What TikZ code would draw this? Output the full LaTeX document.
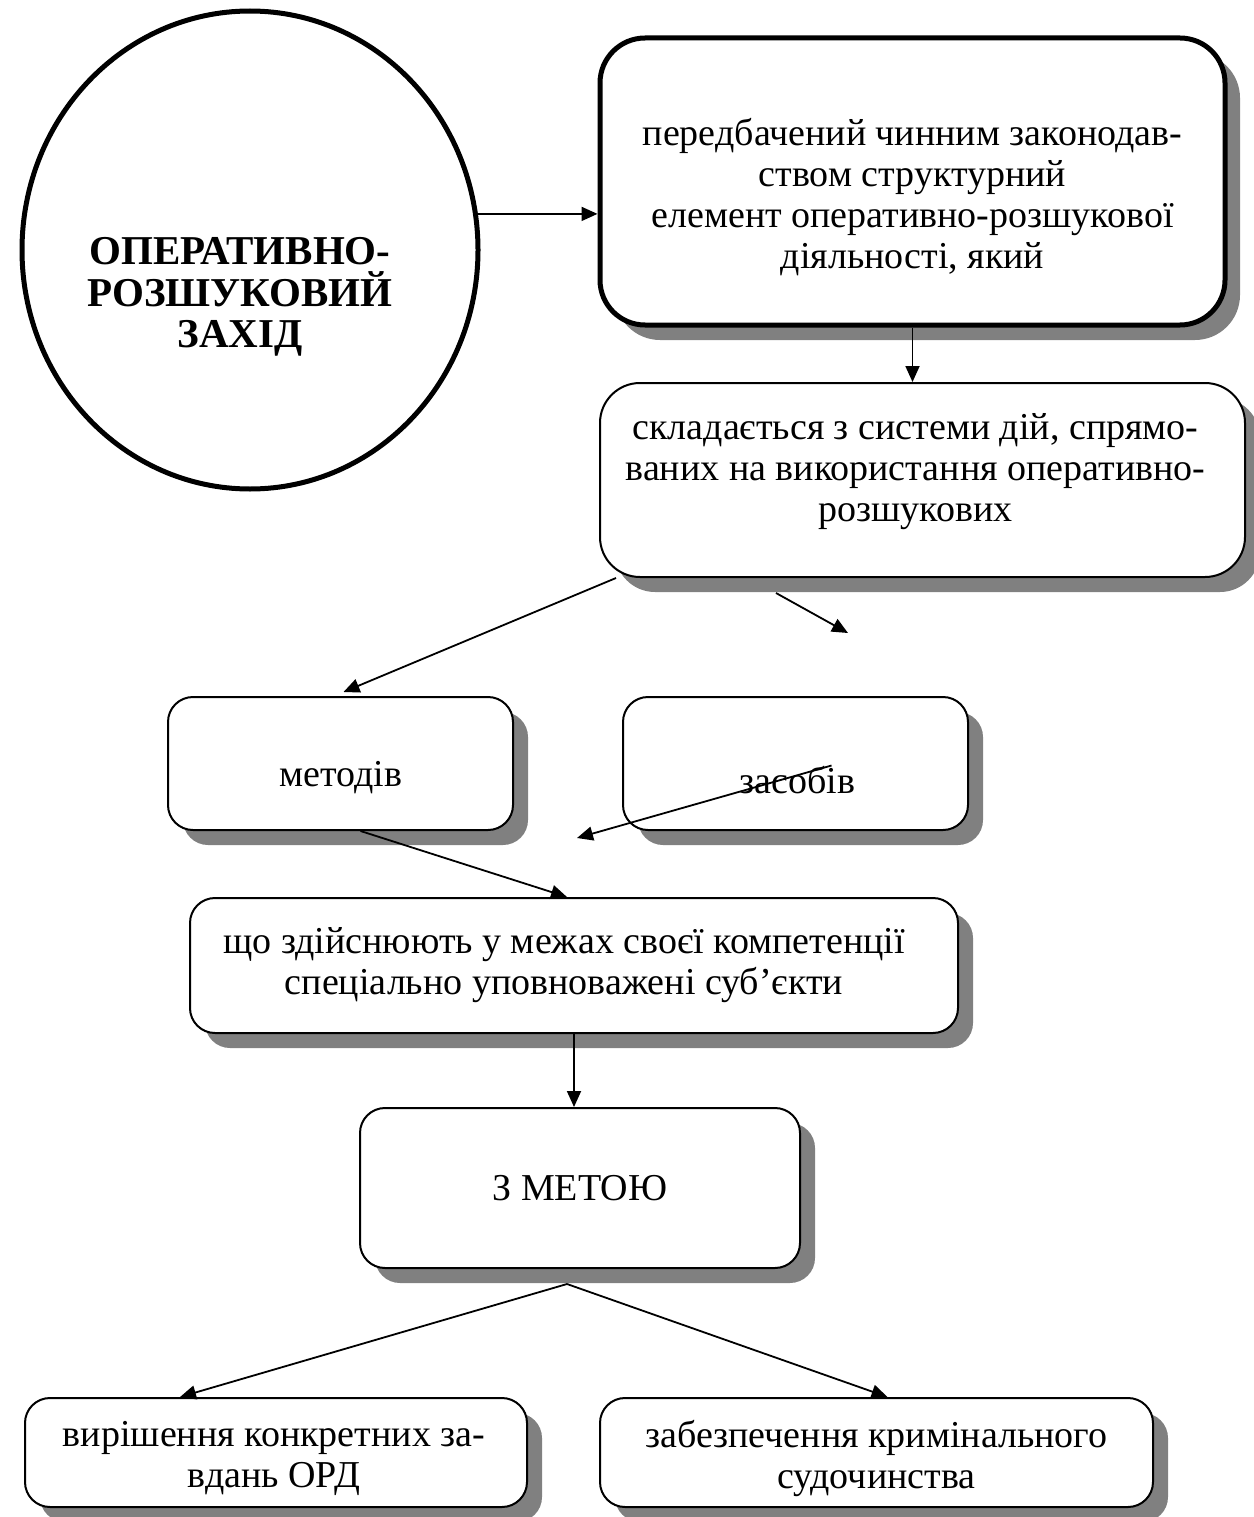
\documentclass[tikz,border=0pt]{standalone}
\usepackage{fontspec}
\setmainfont{Liberation Serif}
\usetikzlibrary{shapes.geometric,arrows.meta,shadows,calc}
\definecolor{shadowgray}{RGB}{128,128,128}
\tikzset{
  shad/.style={drop shadow={shadow xshift=15pt,shadow yshift=-15pt,fill=shadowgray,opacity=1}},
  box/.style={draw,fill=white,rounded corners=40pt,line width=2pt,inner sep=0pt,shad},
  thickbox/.style={box,line width=5pt,rounded corners=45pt},
  txt/.style={align=center,inner sep=0pt,font=\fontsize{38}{41}\selectfont},
  arr/.style={line width=1.8pt,-{Triangle[length=16pt,width=14pt]}},
}
\begin{document}
\begin{tikzpicture}[x=1pt,y=-1pt]
\useasboundingbox (0,0) rectangle (1253,1517);
\node[draw,ellipse,line width=5pt,minimum width=456pt,minimum height=478pt,inner sep=0pt] (ell) at (250,250) {};
\node[align=center,inner sep=0pt,font=\fontsize{41}{41.5}\selectfont\bfseries] (ellt) at (240,297) {ОПЕРАТИВНО-\\РОЗШУКОВИЙ\\ЗАХІД};
\node[thickbox,minimum width=625pt,minimum height=287pt] (b1) at (912.5,181.5) {};
\node[txt] (b1t) at ($(b1)+(0,16)$)
  {передбачений чинним законодав-\\ством структурний\\елемент оперативно-розшукової\\діяльності, який};
\node[box,minimum width=645pt,minimum height=194pt] (b2) at (922.5,480) {};
\node[txt] (b2t) at ($(b2)+(-7,-8)$)
  {складається з системи дій, спрямо-\\ваних на використання оперативно-\\розшукових};
\node[box,rounded corners=25pt,minimum width=345pt,minimum height=133pt] (m) at (340.5,763.5) {};
\node[txt] (mt) at ($(m)+(0,14)$) {методів};
\node[box,rounded corners=25pt,minimum width=345pt,minimum height=133pt] (z) at (795.5,763.5) {};
\node[txt] (zt) at ($(z)+(2,17)$) {засобів};
\node[box,rounded corners=25pt,minimum width=768pt,minimum height=135pt] (b3) at (574,965.5) {};
\node[txt] (b3t) at ($(b3)+(-10,0)$)
  {що здійснюють у межах своєї компетенції\\спеціально уповноважені суб’єкти};
\node[box,rounded corners=25pt,minimum width=440pt,minimum height=160pt] (b4) at (580,1188) {};
\node[txt] (b4t) at (b4) {З МЕТОЮ};
\node[box,rounded corners=25pt,minimum width=502pt,minimum height=109pt] (b5) at (276,1452.5) {};
\node[txt] (b5t) at ($(b5)+(-2,6)$) {вирішення конкретних за-\\вдань ОРД};
\node[box,rounded corners=25pt,minimum width=553pt,minimum height=109pt] (b6) at (876.5,1452.5) {};
\node[txt] (b6t) at ($(b6)+(0,6)$) {забезпечення кримінального\\судочинства};
\coordinate (free1) at (848,633);
\coordinate (free2) at (577,838);
\coordinate (apex) at ($(b4.south)+(-13,15)$);
\draw[arr] (ell.9) -- (ell.9 -| b1.west);
\draw[arr] (b1.south) -- (b1.south |- b2.north);
\draw[arr] ($(b2.south west)+(17,0)$) -- ($(m.north)+(3,-4)$);
\draw[arr] ($(b2.south west)+(177,15)$) -- (free1);
\draw[arr] ($(z.center)+(36,2)$) -- (free2);
\draw[arr] ($(m.south)+(20,0)$) -- ($(b3.north)+(-7,0)$);
\draw[arr] (b3.south) -- (b3.south |- b4.north);
\draw[arr] (apex) -- ($(b5.north)+(-96,0)$);
\draw[arr] (apex) -- ($(b6.north)+(11,0)$);
\end{tikzpicture}
\end{document}
